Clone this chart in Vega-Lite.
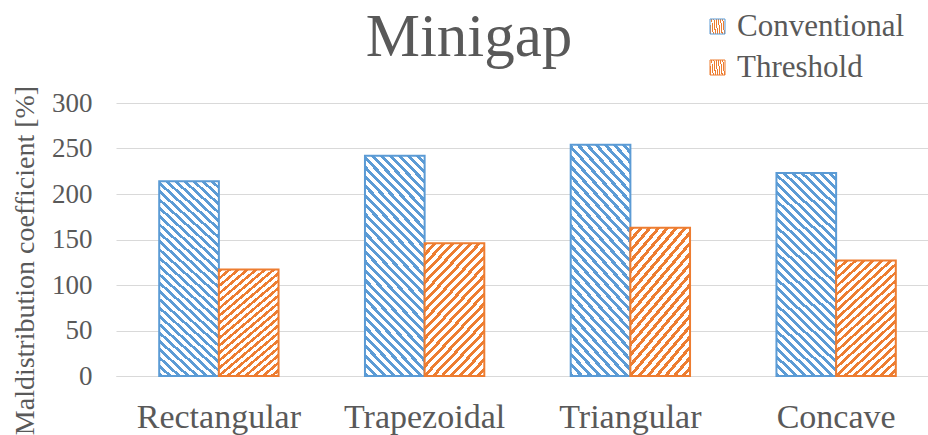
{
"$schema": "https://vega.github.io/schema/vega-lite/v6.json",
"width": 812, "height": 273,
"autosize": {"type": "none"},
"padding": {"left": 116, "top": 103, "right": 0, "bottom": 59},
"background": "white",
"title": {"text": "Minigap", "fontSize": 61, "font": "Liberation Serif, Tinos, Times New Roman, DejaVu Serif, serif", "fontWeight": "normal", "color": "#595959", "anchor": "middle", "frame": "group", "baseline": "alphabetic", "dx": -53, "offset": -106},
"data": {"values": [
{"shape": "Rectangular", "series": "Conventional", "value": 214},
{"shape": "Rectangular", "series": "Threshold", "value": 117},
{"shape": "Trapezoidal", "series": "Conventional", "value": 242},
{"shape": "Trapezoidal", "series": "Threshold", "value": 146},
{"shape": "Triangular", "series": "Conventional", "value": 254},
{"shape": "Triangular", "series": "Threshold", "value": 163},
{"shape": "Concave", "series": "Conventional", "value": 223},
{"shape": "Concave", "series": "Threshold", "value": 127}
]},
"mark": {"type": "bar", "strokeWidth": 2},
"encoding": {
"x": {"field": "shape", "type": "nominal", "sort": null,
 "scale": {"domain": ["Rectangular", "Trapezoidal", "Triangular", "Concave"], "range": [0, 823], "paddingInner": 0.42, "paddingOuter": 0.21},
 "axis": {"title": null, "labelFont": "Liberation Serif, Tinos, Times New Roman, DejaVu Serif, serif", "labelFontSize": 34, "labelColor": "#595959", "labelPadding": 51, "labelBaseline": "alphabetic", "labelAngle": 0, "ticks": false, "tickSize": 0, "domainColor": "#d9d9d9", "domainWidth": 1, "grid": false}},
"xOffset": {"field": "series", "type": "nominal", "sort": null, "scale": {"domain": ["Conventional", "Threshold"], "paddingInner": 0, "paddingOuter": 0}},
"y": {"field": "value", "type": "quantitative", "scale": {"domain": [0, 300]},
 "axis": {"title": "Maldistribution coefficient [%]", "values": [0, 50, 100, 150, 200, 250, 300], "titleFont": "Liberation Serif, Tinos, Times New Roman, DejaVu Serif, serif", "titleFontSize": 28, "titleFontWeight": "normal", "titleColor": "#595959", "titleX": -83, "titleY": 157, "titleAngle": -90, "titleAlign": "center", "titleBaseline": "alphabetic", "labelFont": "Liberation Serif, Tinos, Times New Roman, DejaVu Serif, serif", "labelFontSize": 27, "labelColor": "#595959", "labelPadding": 24, "ticks": false, "tickSize": 0, "domain": false, "grid": true, "gridColor": "#d9d9d9", "gridWidth": 1}},
"stroke": {"field": "series", "type": "nominal", "scale": {"domain": ["Conventional", "Threshold"], "range": ["#5b9bd5", "#ed7d31"]},
 "legend": {"title": null, "orient": "none", "legendX": 586, "legendY": -92, "direction": "vertical", "symbolType": "square", "symbolSize": 225, "symbolStrokeWidth": 1, "labelFont": "Liberation Serif, Tinos, Times New Roman, DejaVu Serif, serif", "labelFontSize": 31, "labelColor": "#595959", "labelLimit": 400, "labelOffset": 4, "rowPadding": 9, "padding": 0,
  "encode": {"symbols": {"update": {"fill": [
   {"test": "datum.value === 'Conventional'", "value": {"gradient": "linear", "x1": 0, "y1": 1, "x2": 1, "y2": 0, "stops": [{"offset": 0, "color": "#5b9bd5"}, {"offset": 0.28, "color": "#5b9bd5"}, {"offset": 0.28, "color": "#ffffff"}, {"offset": 0.42, "color": "#ffffff"}, {"offset": 0.42, "color": "#5b9bd5"}, {"offset": 0.58, "color": "#5b9bd5"}, {"offset": 0.58, "color": "#ffffff"}, {"offset": 0.72, "color": "#ffffff"}, {"offset": 0.72, "color": "#5b9bd5"}, {"offset": 1, "color": "#5b9bd5"}]}},
   {"value": {"gradient": "linear", "x1": 0, "y1": 0, "x2": 1, "y2": 1, "stops": [{"offset": 0, "color": "#ed7d31"}, {"offset": 0.28, "color": "#ed7d31"}, {"offset": 0.28, "color": "#ffffff"}, {"offset": 0.42, "color": "#ffffff"}, {"offset": 0.42, "color": "#ed7d31"}, {"offset": 0.58, "color": "#ed7d31"}, {"offset": 0.58, "color": "#ffffff"}, {"offset": 0.72, "color": "#ffffff"}, {"offset": 0.72, "color": "#ed7d31"}, {"offset": 1, "color": "#ed7d31"}]}}
  ]}}}}},
"fill": {"condition": {"test": "datum.series === 'Conventional'", "value": {"gradient": "linear", "x1": 0, "y1": 1, "x2": 0.3342, "y2": -0.1874, "stops": [
{"offset": 0, "color": "#5b9bd5"}, {"offset": 0.015, "color": "#5b9bd5"}, {"offset": 0.015, "color": "#ffffff"}, {"offset": 0.0333, "color": "#ffffff"},
{"offset": 0.0333, "color": "#5b9bd5"}, {"offset": 0.0483, "color": "#5b9bd5"}, {"offset": 0.0483, "color": "#ffffff"}, {"offset": 0.0667, "color": "#ffffff"},
{"offset": 0.0667, "color": "#5b9bd5"}, {"offset": 0.0817, "color": "#5b9bd5"}, {"offset": 0.0817, "color": "#ffffff"}, {"offset": 0.1, "color": "#ffffff"},
{"offset": 0.1, "color": "#5b9bd5"}, {"offset": 0.115, "color": "#5b9bd5"}, {"offset": 0.115, "color": "#ffffff"}, {"offset": 0.1333, "color": "#ffffff"},
{"offset": 0.1333, "color": "#5b9bd5"}, {"offset": 0.1483, "color": "#5b9bd5"}, {"offset": 0.1483, "color": "#ffffff"}, {"offset": 0.1667, "color": "#ffffff"},
{"offset": 0.1667, "color": "#5b9bd5"}, {"offset": 0.1817, "color": "#5b9bd5"}, {"offset": 0.1817, "color": "#ffffff"}, {"offset": 0.2, "color": "#ffffff"},
{"offset": 0.2, "color": "#5b9bd5"}, {"offset": 0.215, "color": "#5b9bd5"}, {"offset": 0.215, "color": "#ffffff"}, {"offset": 0.2333, "color": "#ffffff"},
{"offset": 0.2333, "color": "#5b9bd5"}, {"offset": 0.2483, "color": "#5b9bd5"}, {"offset": 0.2483, "color": "#ffffff"}, {"offset": 0.2667, "color": "#ffffff"},
{"offset": 0.2667, "color": "#5b9bd5"}, {"offset": 0.2817, "color": "#5b9bd5"}, {"offset": 0.2817, "color": "#ffffff"}, {"offset": 0.3, "color": "#ffffff"},
{"offset": 0.3, "color": "#5b9bd5"}, {"offset": 0.315, "color": "#5b9bd5"}, {"offset": 0.315, "color": "#ffffff"}, {"offset": 0.3333, "color": "#ffffff"},
{"offset": 0.3333, "color": "#5b9bd5"}, {"offset": 0.3483, "color": "#5b9bd5"}, {"offset": 0.3483, "color": "#ffffff"}, {"offset": 0.3667, "color": "#ffffff"},
{"offset": 0.3667, "color": "#5b9bd5"}, {"offset": 0.3817, "color": "#5b9bd5"}, {"offset": 0.3817, "color": "#ffffff"}, {"offset": 0.4, "color": "#ffffff"},
{"offset": 0.4, "color": "#5b9bd5"}, {"offset": 0.415, "color": "#5b9bd5"}, {"offset": 0.415, "color": "#ffffff"}, {"offset": 0.4333, "color": "#ffffff"},
{"offset": 0.4333, "color": "#5b9bd5"}, {"offset": 0.4483, "color": "#5b9bd5"}, {"offset": 0.4483, "color": "#ffffff"}, {"offset": 0.4667, "color": "#ffffff"},
{"offset": 0.4667, "color": "#5b9bd5"}, {"offset": 0.4817, "color": "#5b9bd5"}, {"offset": 0.4817, "color": "#ffffff"}, {"offset": 0.5, "color": "#ffffff"},
{"offset": 0.5, "color": "#5b9bd5"}, {"offset": 0.515, "color": "#5b9bd5"}, {"offset": 0.515, "color": "#ffffff"}, {"offset": 0.5333, "color": "#ffffff"},
{"offset": 0.5333, "color": "#5b9bd5"}, {"offset": 0.5483, "color": "#5b9bd5"}, {"offset": 0.5483, "color": "#ffffff"}, {"offset": 0.5667, "color": "#ffffff"},
{"offset": 0.5667, "color": "#5b9bd5"}, {"offset": 0.5817, "color": "#5b9bd5"}, {"offset": 0.5817, "color": "#ffffff"}, {"offset": 0.6, "color": "#ffffff"},
{"offset": 0.6, "color": "#5b9bd5"}, {"offset": 0.615, "color": "#5b9bd5"}, {"offset": 0.615, "color": "#ffffff"}, {"offset": 0.6333, "color": "#ffffff"},
{"offset": 0.6333, "color": "#5b9bd5"}, {"offset": 0.6483, "color": "#5b9bd5"}, {"offset": 0.6483, "color": "#ffffff"}, {"offset": 0.6667, "color": "#ffffff"},
{"offset": 0.6667, "color": "#5b9bd5"}, {"offset": 0.6817, "color": "#5b9bd5"}, {"offset": 0.6817, "color": "#ffffff"}, {"offset": 0.7, "color": "#ffffff"},
{"offset": 0.7, "color": "#5b9bd5"}, {"offset": 0.715, "color": "#5b9bd5"}, {"offset": 0.715, "color": "#ffffff"}, {"offset": 0.7333, "color": "#ffffff"},
{"offset": 0.7333, "color": "#5b9bd5"}, {"offset": 0.7483, "color": "#5b9bd5"}, {"offset": 0.7483, "color": "#ffffff"}, {"offset": 0.7667, "color": "#ffffff"},
{"offset": 0.7667, "color": "#5b9bd5"}, {"offset": 0.7817, "color": "#5b9bd5"}, {"offset": 0.7817, "color": "#ffffff"}, {"offset": 0.8, "color": "#ffffff"},
{"offset": 0.8, "color": "#5b9bd5"}, {"offset": 0.815, "color": "#5b9bd5"}, {"offset": 0.815, "color": "#ffffff"}, {"offset": 0.8333, "color": "#ffffff"},
{"offset": 0.8333, "color": "#5b9bd5"}, {"offset": 0.8483, "color": "#5b9bd5"}, {"offset": 0.8483, "color": "#ffffff"}, {"offset": 0.8667, "color": "#ffffff"},
{"offset": 0.8667, "color": "#5b9bd5"}, {"offset": 0.8817, "color": "#5b9bd5"}, {"offset": 0.8817, "color": "#ffffff"}, {"offset": 0.9, "color": "#ffffff"},
{"offset": 0.9, "color": "#5b9bd5"}, {"offset": 0.915, "color": "#5b9bd5"}, {"offset": 0.915, "color": "#ffffff"}, {"offset": 0.9333, "color": "#ffffff"},
{"offset": 0.9333, "color": "#5b9bd5"}, {"offset": 0.9483, "color": "#5b9bd5"}, {"offset": 0.9483, "color": "#ffffff"}, {"offset": 0.9667, "color": "#ffffff"},
{"offset": 0.9667, "color": "#5b9bd5"}, {"offset": 0.9817, "color": "#5b9bd5"}, {"offset": 0.9817, "color": "#ffffff"}, {"offset": 1, "color": "#ffffff"}
]}},
"value": {"gradient": "linear", "x1": 0, "y1": 0, "x2": 0.5699, "y2": 1.2037, "stops": [
{"offset": 0, "color": "#ed7d31"}, {"offset": 0.0214, "color": "#ed7d31"}, {"offset": 0.0214, "color": "#ffffff"}, {"offset": 0.0476, "color": "#ffffff"},
{"offset": 0.0476, "color": "#ed7d31"}, {"offset": 0.069, "color": "#ed7d31"}, {"offset": 0.069, "color": "#ffffff"}, {"offset": 0.0952, "color": "#ffffff"},
{"offset": 0.0952, "color": "#ed7d31"}, {"offset": 0.1167, "color": "#ed7d31"}, {"offset": 0.1167, "color": "#ffffff"}, {"offset": 0.1429, "color": "#ffffff"},
{"offset": 0.1429, "color": "#ed7d31"}, {"offset": 0.1643, "color": "#ed7d31"}, {"offset": 0.1643, "color": "#ffffff"}, {"offset": 0.1905, "color": "#ffffff"},
{"offset": 0.1905, "color": "#ed7d31"}, {"offset": 0.2119, "color": "#ed7d31"}, {"offset": 0.2119, "color": "#ffffff"}, {"offset": 0.2381, "color": "#ffffff"},
{"offset": 0.2381, "color": "#ed7d31"}, {"offset": 0.2595, "color": "#ed7d31"}, {"offset": 0.2595, "color": "#ffffff"}, {"offset": 0.2857, "color": "#ffffff"},
{"offset": 0.2857, "color": "#ed7d31"}, {"offset": 0.3071, "color": "#ed7d31"}, {"offset": 0.3071, "color": "#ffffff"}, {"offset": 0.3333, "color": "#ffffff"},
{"offset": 0.3333, "color": "#ed7d31"}, {"offset": 0.3548, "color": "#ed7d31"}, {"offset": 0.3548, "color": "#ffffff"}, {"offset": 0.381, "color": "#ffffff"},
{"offset": 0.381, "color": "#ed7d31"}, {"offset": 0.4024, "color": "#ed7d31"}, {"offset": 0.4024, "color": "#ffffff"}, {"offset": 0.4286, "color": "#ffffff"},
{"offset": 0.4286, "color": "#ed7d31"}, {"offset": 0.45, "color": "#ed7d31"}, {"offset": 0.45, "color": "#ffffff"}, {"offset": 0.4762, "color": "#ffffff"},
{"offset": 0.4762, "color": "#ed7d31"}, {"offset": 0.4976, "color": "#ed7d31"}, {"offset": 0.4976, "color": "#ffffff"}, {"offset": 0.5238, "color": "#ffffff"},
{"offset": 0.5238, "color": "#ed7d31"}, {"offset": 0.5452, "color": "#ed7d31"}, {"offset": 0.5452, "color": "#ffffff"}, {"offset": 0.5714, "color": "#ffffff"},
{"offset": 0.5714, "color": "#ed7d31"}, {"offset": 0.5929, "color": "#ed7d31"}, {"offset": 0.5929, "color": "#ffffff"}, {"offset": 0.619, "color": "#ffffff"},
{"offset": 0.619, "color": "#ed7d31"}, {"offset": 0.6405, "color": "#ed7d31"}, {"offset": 0.6405, "color": "#ffffff"}, {"offset": 0.6667, "color": "#ffffff"},
{"offset": 0.6667, "color": "#ed7d31"}, {"offset": 0.6881, "color": "#ed7d31"}, {"offset": 0.6881, "color": "#ffffff"}, {"offset": 0.7143, "color": "#ffffff"},
{"offset": 0.7143, "color": "#ed7d31"}, {"offset": 0.7357, "color": "#ed7d31"}, {"offset": 0.7357, "color": "#ffffff"}, {"offset": 0.7619, "color": "#ffffff"},
{"offset": 0.7619, "color": "#ed7d31"}, {"offset": 0.7833, "color": "#ed7d31"}, {"offset": 0.7833, "color": "#ffffff"}, {"offset": 0.8095, "color": "#ffffff"},
{"offset": 0.8095, "color": "#ed7d31"}, {"offset": 0.831, "color": "#ed7d31"}, {"offset": 0.831, "color": "#ffffff"}, {"offset": 0.8571, "color": "#ffffff"},
{"offset": 0.8571, "color": "#ed7d31"}, {"offset": 0.8786, "color": "#ed7d31"}, {"offset": 0.8786, "color": "#ffffff"}, {"offset": 0.9048, "color": "#ffffff"},
{"offset": 0.9048, "color": "#ed7d31"}, {"offset": 0.9262, "color": "#ed7d31"}, {"offset": 0.9262, "color": "#ffffff"}, {"offset": 0.9524, "color": "#ffffff"},
{"offset": 0.9524, "color": "#ed7d31"}, {"offset": 0.9738, "color": "#ed7d31"}, {"offset": 0.9738, "color": "#ffffff"}, {"offset": 1, "color": "#ffffff"}
]}}
},
"config": {"view": {"stroke": null}, "font": "Liberation Serif, Tinos, Times New Roman, DejaVu Serif, serif"}
}
